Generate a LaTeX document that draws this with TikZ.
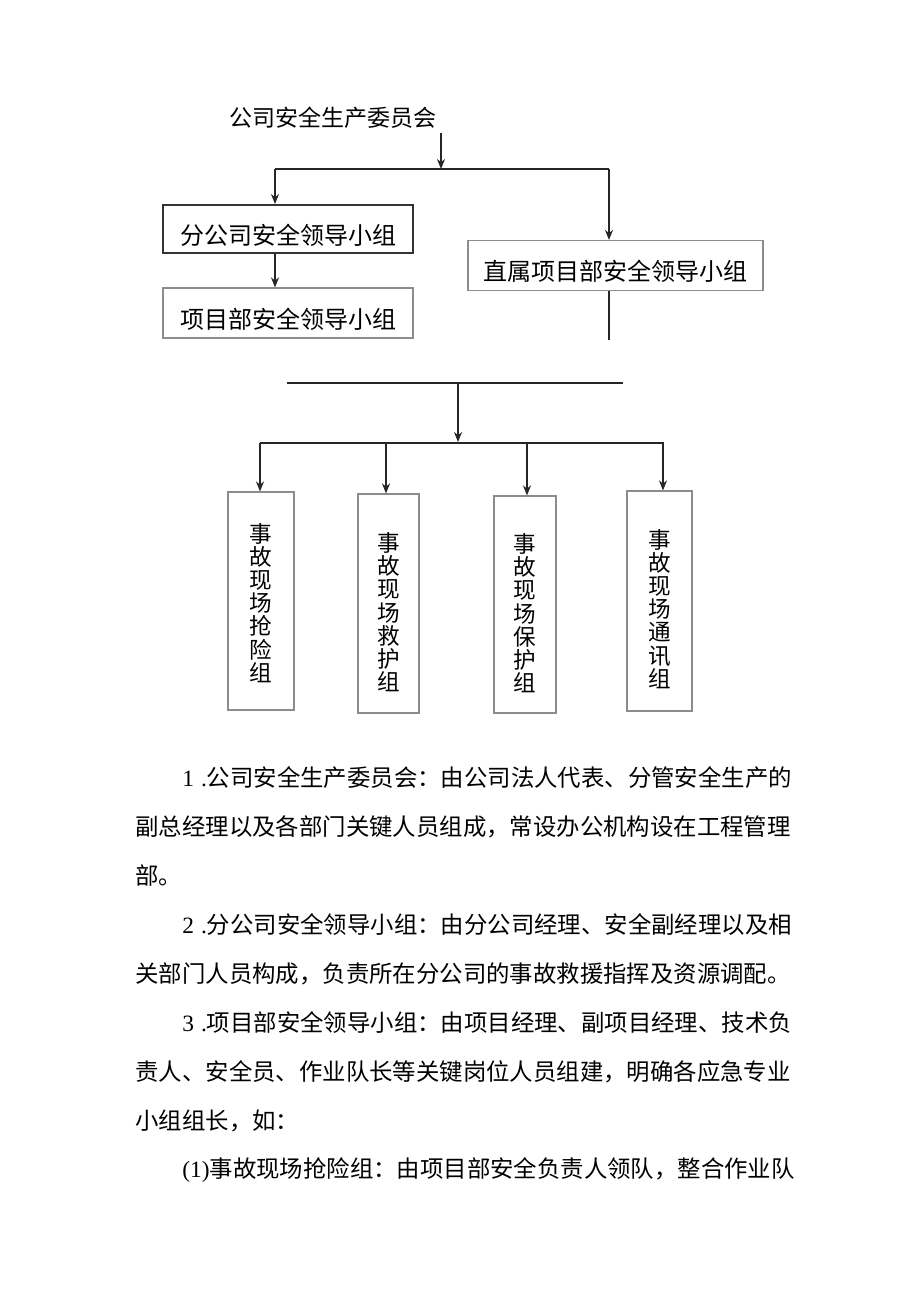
\documentclass[tikz,border=0pt]{standalone}
\usepackage{fontspec}
\setmainfont{Liberation Serif}
\newfontfamily\cjkfont{Noto Sans CJK SC}
\usetikzlibrary{
    arrows.meta
}
\tikzset {
    link/.style = {draw = black!85, line width = 1pt},
    arrowed/.style = {link, -{Stealth[length = 5pt, width = 4pt]}},
    dark box/.style = {draw = black!80, line width = 1pt},
    light box/.style = {draw = black!45, line width = 0.6pt},
    head/.style = {
        inner sep = 0pt,
        font = \cjkfont\fontsize{11.5pt}{14pt}\selectfont
    },
    unit/.style = {
        inner sep = 0pt,
        text height = 16.6pt,
        text depth = 1.4pt,
        font = \cjkfont\fontsize{12pt}{14pt}\selectfont
    },
    group/.style = {
        light box,
        align = center,
        inner sep = 0pt,
        text height = 87.6pt,
        text depth = 1.4pt,
        font = \cjkfont\fontsize{11.3pt}{11.6pt}\selectfont
    },
    body/.style = {
        anchor = west,
        inner sep = 0pt,
        font = \cjkfont\fontsize{11.7pt}{14pt}\selectfont
    }
}

\begin{document}
\begin{tikzpicture}[x = 0.5pt, y = -0.5pt]
    \useasboundingbox (0, 0) rectangle (920, 1301);
    % upper chart
    \node (committee) [head] at (333, 118) {公司安全生产委员会};
    \coordinate (top) at (441, 133);
    \coordinate (split) at (441, 169);
    \coordinate (split west) at (275, 169);
    \coordinate (split east) at (609, 169);
    \node (branch) [unit, dark box, minimum width = 125pt, minimum height = 24pt]
        at (288, 229) {分公司安全领导小组\hspace{8pt}};
    \node (project) [unit, light box, minimum width = 125pt, minimum height = 25pt]
        at (288, 313) {项目部安全领导小组\hspace{3pt}};
    \node (direct) [unit, light box, minimum width = 147.5pt, minimum height = 25pt]
        at (615.5, 265.5) {直属项目部安全领导小组\hspace{3pt}};
    \coordinate (stub) at (609, 340);
    \draw [arrowed] (top) -- (split);
    \draw [link] (split west) -- (split east);
    \draw [arrowed] (split west) -- (split west |- branch.north);
    \draw [arrowed] (split east) -- (split east |- direct.north);
    \draw [arrowed] (branch.south -| split west) -- (split west |- project.north);
    \draw [link] (direct.south -| stub) -- (stub);
    % lower chart
    \coordinate (bar west) at (287, 383);
    \coordinate (bar east) at (623, 383);
    \coordinate (drop) at (458, 383);
    \coordinate (fan) at (458, 442);
    \coordinate (fan west) at (260, 443);
    \coordinate (fan east) at (664, 443);
    \draw [link] (bar west) -- (bar east);
    \draw [arrowed] (drop) -- (fan);
    \draw [link] (fan west) -- (fan east);
    \node (rescue) [group, text height = 81.6pt, minimum width = 33pt, minimum height = 109pt]
        at (261, 601) {事\\故\\现\\场\\抢\\险\\组};
    \node (aid) [group, text height = 88.6pt, minimum width = 30.5pt, minimum height = 109.5pt]
        at (388.5, 603.5) {事\\故\\现\\场\\救\\护\\组};
    \node (guard) [group, text height = 88.6pt, minimum width = 31pt, minimum height = 108.5pt]
        at (525, 604.5) {事\\故\\现\\场\\保\\护\\组};
    \node (comms) [group, minimum width = 32.5pt, minimum height = 110pt]
        at (659.5, 601) {事\\故\\现\\场\\通\\讯\\组};
    \coordinate (tap a) at (260, 443);
    \coordinate (tap b) at (386, 443);
    \coordinate (tap c) at (527, 443);
    \coordinate (tap d) at (663, 443);
    \draw [arrowed] (tap a) -- (tap a |- rescue.north);
    \draw [arrowed] (tap b) -- (tap b |- aid.north);
    \draw [arrowed] (tap c) -- (tap c |- guard.north);
    \draw [arrowed] (tap d) -- (tap d |- comms.north);
    % text below
    \node (p1a) [body] at (182, 778)
        {{\rmfamily 1\hspace{3.5pt}.}公司安全生产委员会：由公司法人代表、分管安全生产的};
    \node (p1b) [body] at (135, 827)
        {副总经理以及各部门关键人员组成，常设办公机构设在工程管理};
    \node (p1c) [body] at (135, 876) {部。};
    \node (p2a) [body] at (182, 925)
        {{\rmfamily 2\hspace{3.5pt}.}分公司安全领导小组：由分公司经理、安全副经理以及相};
    \node (p2b) [body] at (135, 974)
        {关部门人员构成，负责所在分公司的事故救援指挥及资源调配。};
    \node (p3a) [body] at (182, 1023)
        {{\rmfamily 3\hspace{3.5pt}.}项目部安全领导小组：由项目经理、副项目经理、技术负};
    \node (p3b) [body] at (135, 1072)
        {责人、安全员、作业队长等关键岗位人员组建，明确各应急专业};
    \node (p3c) [body] at (135, 1121) {小组组长，如：};
    \node (p4a) [body] at (182, 1170)
        {{\rmfamily (1)}事故现场抢险组：由项目部安全负责人领队，整合作业队};
\end{tikzpicture}
\end{document}
